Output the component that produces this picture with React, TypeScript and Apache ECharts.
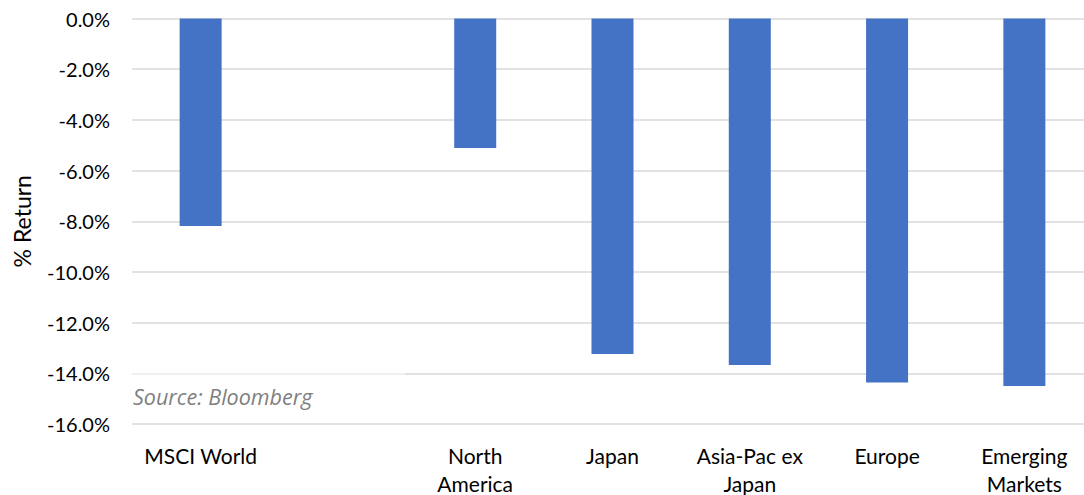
import React, { useEffect, useRef } from "react";
import * as echarts from "echarts";

const categories = ["MSCI World", "", "North\nAmerica", "Japan", "Asia-Pac ex\nJapan", "Europe", "Emerging\nMarkets"];
const returns = [-8.19, null, -5.11, -13.24, -13.67, -14.36, -14.5];
const yTicks = { min: -16, max: 0, interval: 2 };
const sourceText = "Source: Bloomberg";

export default function App() {
  const ref = useRef<HTMLDivElement>(null);
  useEffect(() => {
    if (!ref.current) return;
    const chart = echarts.init(ref.current, null, { renderer: "svg" });
    const font = "Lato, 'Open Sans', sans-serif";
    chart.setOption({
      animation: false,
      grid: { left: 132, right: -9, top: 18.5, bottom: 71, containLabel: false, outerBoundsMode: "none" },
      xAxis: {
        type: "category",
        data: categories,
        position: "bottom",
        axisLine: { show: false },
        axisTick: { show: false },
        axisLabel: {
          interval: 0,
          color: "#000",
          fontFamily: font,
          fontSize: 21,
          lineHeight: 28,
          margin: 17,
          verticalAlign: "top",
        },
      },
      yAxis: {
        type: "value",
        min: yTicks.min,
        max: yTicks.max,
        interval: yTicks.interval,
        name: "% Return",
        nameLocation: "middle",
        nameGap: 99,
        nameRotate: 90,
        nameTextStyle: { color: "#000", fontFamily: font, fontSize: 23 },
        axisLine: { show: false },
        axisTick: { show: false },
        axisLabel: {
          color: "#000",
          fontFamily: font,
          fontSize: 20,
          margin: 22,
          formatter: (v: number) => v.toFixed(1) + "%",
        },
        splitLine: { lineStyle: { color: "#d9d9d9", width: 1.5 } },
      },
      series: [
        {
          type: "bar",
          data: returns,
          barWidth: 42,
          itemStyle: { color: "#4472c4" },
        },
      ],
      graphic: [
        {
          type: "rect",
          left: 130,
          top: 372,
          shape: { width: 275, height: 3 },
          style: { fill: "rgba(255,255,255,0.45)" },
          z: 100,
        },
        {
          type: "text",
          left: 133,
          top: 385,
          style: {
            text: sourceText,
            fill: "#7f7f7f",
            font: "italic 21.5px 'Open Sans', sans-serif",
          },
          z: 100,
        },
      ],
    });
    return () => chart.dispose();
  }, []);
  return (
    <div
      ref={ref}
      style={{ position: "fixed", left: 0, top: 0, width: 1084, height: 495, background: "#fff" }}
    />
  );
}
